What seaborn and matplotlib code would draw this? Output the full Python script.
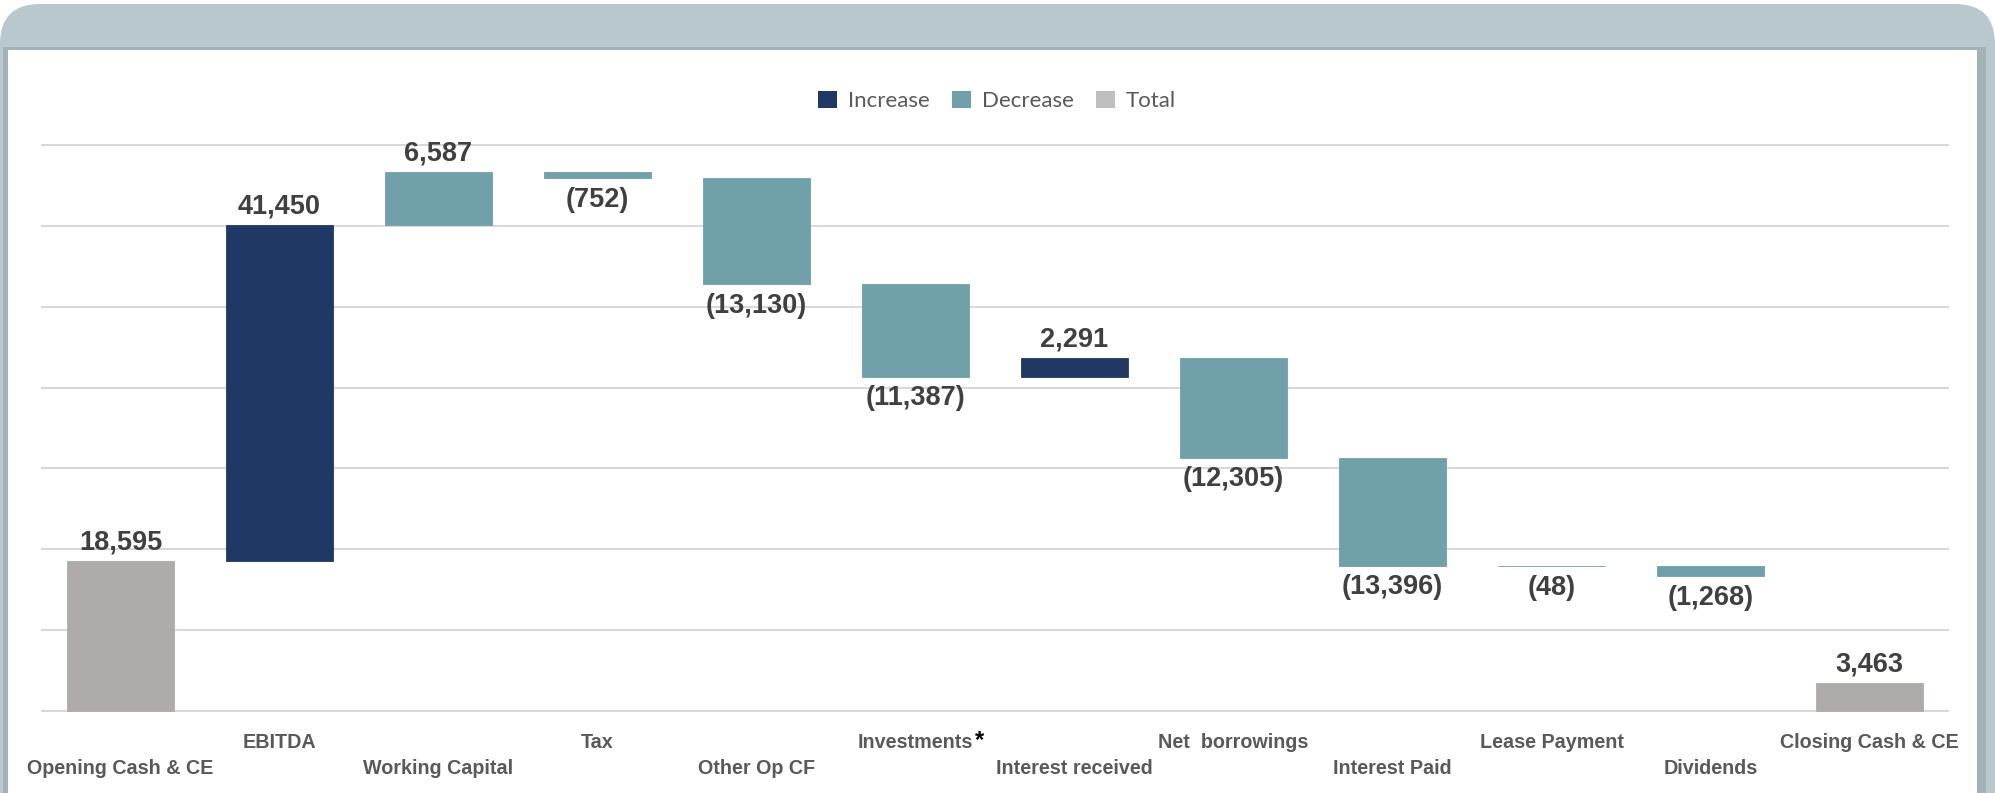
import numpy as np
import pandas as pd
import matplotlib
matplotlib.use("Agg")
import matplotlib.pyplot as plt
from matplotlib.patches import FancyBboxPatch, Rectangle, Patch
from matplotlib.transforms import blended_transform_factory
import seaborn as sns

# data
categories = ["Opening Cash & CE", "EBITDA", "Working Capital", "Tax", "Other Op CF",
              "Investments", "Interest received", "Net  borrowings", "Interest Paid",
              "Lease Payment", "Dividends", "Closing Cash & CE"]
values = [18595, 41450, 6587, -752, -13130, -11387, 2291, -12305, -13396, -48, -1268, 3463]
kinds = ["Total", "Increase", "Decrease", "Decrease", "Decrease", "Decrease",
         "Increase", "Decrease", "Decrease", "Decrease", "Decrease", "Total"]
y_ticks = [0, 10000, 20000, 30000, 40000, 50000, 60000, 70000]
legend_labels = ["Increase", "Decrease", "Total"]
footnote_step = "Investments"

colors = {"Increase": "#203864", "Decrease": "#70A0AA", "Total": "#AFABAA"}
legend_colors = {"Increase": "#203864", "Decrease": "#70A0AA", "Total": "#BFBFBF"}

# waterfall: running total, totals start at zero
bottoms, heights = [], []
running = 0
for v, k in zip(values, kinds):
    if k == "Total":
        bottoms.append(0)
        heights.append(v)
        running = v
    else:
        bottoms.append(min(running, running + v))
        heights.append(abs(v))
        running += v

df = pd.DataFrame({"step": categories, "height": heights, "bottom": bottoms})

sns.set_theme(style="white")
plt.rcParams['font.family'] = ['Liberation Sans', 'DejaVu Sans']

W, H = 1995, 793
fig = plt.figure(figsize=(W / 100, H / 100), dpi=100)
fig.patch.set_facecolor("white")

# frame behind the chart (pixel coords)
bg = fig.add_axes([0, 0, 1, 1])
bg.set_xlim(0, W)
bg.set_ylim(H, 0)
bg.axis("off")
bg.add_patch(FancyBboxPatch((0, 4), W, 900, boxstyle="round,pad=0,rounding_size=40",
                            fc="#B9C8CC", ec="none"))
bg.add_patch(Rectangle((3, 47), 1983, 800, fc="#A2B3B7", ec="none"))
bg.add_patch(Rectangle((8, 50), 1969, 800, fc="white", ec="none"))

# main axes: 0 at y=711px, 70000 at y=145px
pad = 300
px_per = 566 / 70000
ax = fig.add_axes([41 / W, (H - 711 - pad * px_per) / H,
                   (1949 - 41) / W, (566 + 2 * pad * px_per) / H])
ax.set_facecolor("none")

sns.barplot(data=df, x="step", y="height", bottom=df["bottom"].values, width=0.667,
            color=colors["Decrease"], errorbar=None, ax=ax, zorder=2)
for p, k in zip(ax.patches, kinds):
    p.set_facecolor(colors[k])
    p.set_edgecolor(colors[k])
    p.set_linewidth(0.6)

ax.set_xlim(-0.5, len(categories) - 0.5)
ax.set_ylim(-pad, 70000 + pad)
ax.set_yticks(y_ticks)
ax.yaxis.grid(True, color="#D9D9D9", lw=1.5)
ax.set_axisbelow(True)
ax.tick_params(left=False, labelleft=False, bottom=False, labelbottom=False)
for s in ax.spines.values():
    s.set_visible(False)
ax.set_xlabel("")
ax.set_ylabel("")

# value labels
for i, (b, h, v) in enumerate(zip(bottoms, heights, values)):
    if v >= 0:
        ax.annotate(f"{v:,}", (i, b + h), xytext=(0, 4), textcoords="offset points",
                    ha="center", va="bottom", fontsize=19.5, fontweight="bold", color="#404040")
    else:
        ax.annotate(f"({-v:,})", (i, b), xytext=(0, -6), textcoords="offset points",
                    ha="center", va="top", fontsize=19.5, fontweight="bold", color="#404040")

# staggered category labels
trans = blended_transform_factory(ax.transData, fig.transFigure)
for i, c in enumerate(categories):
    y = 1 - 742 / H if i % 2 else 1 - 768 / H
    t = ax.text(i, y, c, transform=trans, ha="center", va="center", fontsize=14.2,
                fontweight="bold", color="#595959")
    if c == footnote_step:
        ax.annotate("*", xy=(1.0, 0.6), xycoords=t, xytext=(1.5, 0),
                    textcoords="offset points", ha="left", va="center",
                    fontsize=17, fontweight="bold", color="black")

handles = [Patch(facecolor=legend_colors[k], edgecolor="none") for k in legend_labels]
fig.legend(handles, legend_labels, loc="center", bbox_to_anchor=(997 / W, 1 - 101 / H),
           ncol=3, frameon=False, prop={"family": "Lato", "size": 16}, labelcolor="#595959",
           handlelength=0.85, handleheight=0.85, handletextpad=0.5, columnspacing=1.0)

fig.savefig("out.png", dpi=100)
